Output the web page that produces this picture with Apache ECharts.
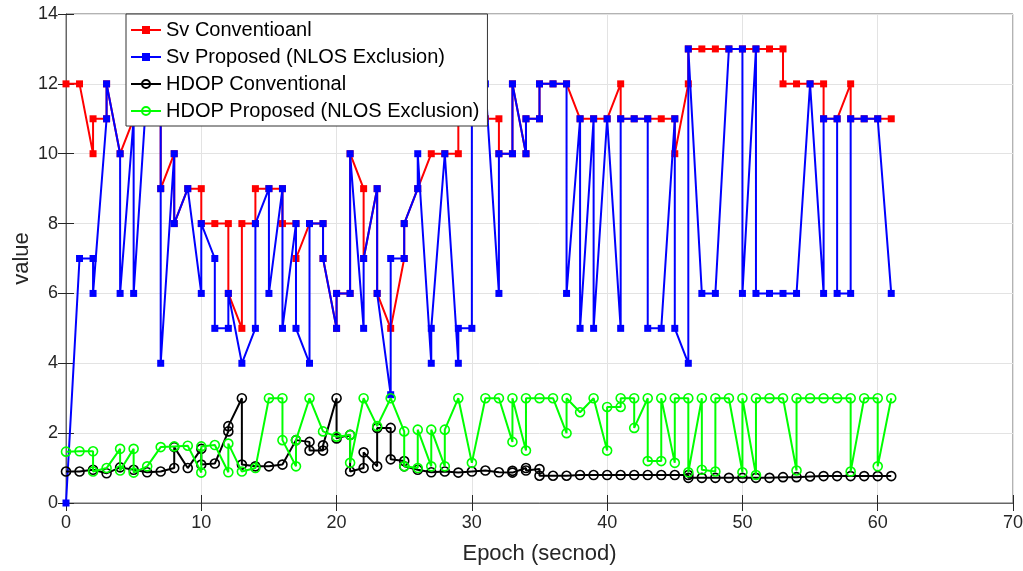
<!DOCTYPE html>
<html>
<head>
<meta charset="utf-8">
<script src="https://cdn.jsdelivr.net/npm/echarts@6/dist/echarts.min.js"></script>
<style>
html,body{margin:0;padding:0;background:#fff;}
#chart{width:1023px;height:571px;}
</style>
</head>
<body>
<div id="chart"></div>
<script>
// ---- data: [epoch, value] pairs, in drawing order ----
const seriesNames = ['Sv Conventioanl', 'Sv Proposed (NLOS Exclusion)', 'HDOP Conventional', 'HDOP Proposed (NLOS Exclusion)'];
const xTicks = [0, 10, 20, 30, 40, 50, 60, 70];
const yTicks = [0, 2, 4, 6, 8, 10, 12, 14];

const svConventional = [[0,12],[1,12],[2,10],[2,11],[3,11],[3,12],[4,10],[5,11],[6,12],[7,12],[7,9],[8,10],[8,8],[9,9],[10,9],[10,8],[11,8],[12,8],[12,6],[13,5],[13,8],[14,8],[14,9],[15,9],[16,9],[16,8],[17,8],[17,7],[18,8],[19,8],[19,7],[20,5],[20,6],[21,6],[21,10],[22,9],[22,7],[23,9],[23,6],[24,5],[25,7],[25,8],[26,9],[27,10],[28,10],[29,10],[29,11],[30,11],[31,11],[32,11],[32,10],[33,10],[33,12],[34,10],[34,11],[35,11],[35,12],[36,12],[37,12],[38,11],[39,11],[40,11],[41,12],[41,11],[42,11],[43,11],[44,11],[45,11],[45,10],[46,12],[46,13],[47,13],[48,13],[49,13],[50,13],[51,13],[52,13],[53,13],[53,12],[54,12],[55,12],[56,12],[56,11],[57,11],[58,12],[58,11],[59,11],[60,11],[61,11]];

const svProposed = [[0,0],[1,7],[2,7],[2,6],[3,11],[3,12],[4,10],[4,6],[5,11],[5,6],[6,12],[7,12],[7,9],[7,4],[8,10],[8,8],[9,9],[10,6],[10,8],[11,7],[11,5],[12,5],[12,6],[13,4],[14,5],[14,8],[15,9],[15,6],[16,9],[16,5],[17,8],[17,5],[18,4],[18,8],[19,8],[19,7],[20,5],[20,6],[21,6],[21,10],[22,5],[22,7],[23,9],[23,6],[24,3.1],[24,7],[25,7],[25,8],[26,9],[26,10],[27,4],[27,5],[28,10],[29,4],[29,5],[30,5],[30,12],[31,12],[32,6],[32,10],[33,10],[33,12],[34,10],[34,11],[35,11],[35,12],[36,12],[37,12],[37,6],[38,11],[38,5],[39,11],[39,5],[40,11],[41,5],[41,11],[42,11],[43,11],[43,5],[44,5],[45,11],[45,5],[46,4],[46,13],[47,6],[48,6],[49,13],[50,13],[50,6],[51,13],[51,6],[52,6],[53,6],[54,6],[55,12],[56,6],[56,11],[57,11],[57,6],[58,6],[58,11],[59,11],[60,11],[61,6]];

const hdopConventional = [[0,0.9],[1,0.9],[2,0.95],[3,0.85],[4,1.02],[5,0.95],[6,0.88],[7,0.9],[8,1.0],[8,1.6],[9,1.0],[10,1.55],[10,1.1],[11,1.13],[12,2.05],[12,2.2],[13,3.0],[13,1.1],[14,1.05],[15,1.05],[16,1.1],[17,1.8],[18,1.75],[18,1.5],[19,1.5],[19,1.65],[20,3.0],[20,1.85],[21,1.95],[21,0.9],[22,1.0],[22,1.45],[23,1.05],[23,2.15],[24,2.15],[24,1.25],[25,1.2],[25,1.05],[26,0.95],[27,0.88],[28,0.9],[29,0.87],[30,0.9],[31,0.93],[32,0.88],[33,0.87],[33,0.92],[34,1.0],[34,0.93],[35,0.97],[35,0.78],[36,0.78],[37,0.78],[38,0.8],[39,0.8],[40,0.8],[41,0.8],[42,0.8],[43,0.8],[44,0.8],[45,0.8],[46,0.8],[46,0.72],[47,0.72],[48,0.72],[49,0.72],[50,0.72],[51,0.72],[52,0.72],[53,0.74],[54,0.74],[55,0.76],[56,0.77],[57,0.77],[58,0.77],[59,0.77],[60,0.77],[61,0.77]];

const hdopProposed = [[0,1.47],[1,1.48],[2,1.48],[2,0.9],[3,1.0],[4,1.55],[4,0.93],[5,1.55],[5,0.87],[6,1.05],[7,1.6],[8,1.62],[9,1.64],[10,0.87],[10,1.62],[11,1.66],[12,0.88],[12,1.7],[13,0.9],[14,1.0],[15,3.0],[16,3.0],[16,1.8],[17,1.05],[17,1.8],[18,3.0],[19,2.05],[20,1.9],[21,1.95],[21,1.15],[22,3.0],[23,2.2],[24,3.0],[25,2.05],[25,1.05],[26,1.0],[26,2.1],[27,1.05],[27,2.1],[28,1.05],[28,2.1],[29,3.0],[30,1.15],[31,3.0],[32,3.0],[33,1.75],[33,3.0],[34,1.5],[34,3.0],[35,3.0],[36,3.0],[37,2.0],[37,3.0],[38,2.6],[39,3.0],[40,1.5],[40,2.75],[41,2.75],[41,3.0],[42,3.0],[42,2.15],[43,3.0],[43,1.2],[44,1.2],[44,3.0],[45,1.15],[45,3.0],[46,3.0],[46,0.88],[47,3.0],[47,0.95],[48,0.9],[48,3.0],[49,3.0],[50,0.88],[50,3.0],[51,0.8],[51,3.0],[52,3.0],[53,3.0],[54,0.93],[54,3.0],[55,3.0],[56,3.0],[57,3.0],[58,3.0],[58,0.9],[59,3.0],[60,3.0],[60,1.05],[61,3.0]];

const colors = ['#ff0000', '#0000ff', '#000000', '#00ff00'];

// ---- chart ----
const axisFont = "'Liberation Sans Narrow', 'Liberation Sans', Arial, sans-serif";
const legendFont = "'Liberation Sans', Arial, sans-serif";
const axisColor = '#666666';

const chart = echarts.init(document.getElementById('chart'), null, {renderer: 'canvas'});

function mkSeries(name, data, color, isSv, z) {
  return {
    name: name,
    type: 'line',
    data: data,
    xAxisIndex: 0,
    yAxisIndex: 0,
    z: z,
    symbol: isSv ? 'rect' : 'circle',
    symbolSize: isSv ? 7 : 9,
    showAllSymbol: true,
    animation: false,
    lineStyle: {color: color, width: 2},
    itemStyle: isSv ? {color: color} : {color: 'rgba(255,255,255,0)', borderColor: color, borderWidth: 1.6},
    emphasis: {disabled: true}
  };
}

const option = {
  backgroundColor: '#ffffff',
  animation: false,
  grid: {left: 66, top: 14, width: 947, height: 489, containLabel: false, outerBoundsMode: 'none',
         show: true, borderColor: axisColor, borderWidth: 1, backgroundColor: '#ffffff'},
  legend: {
    data: seriesNames,
    orient: 'vertical',
    left: 126,
    top: 14,
    padding: [6, 8, 5, 4],
    itemGap: 7,
    itemWidth: 30,
    itemHeight: 10,
    backgroundColor: '#ffffff',
    borderColor: '#333333',
    borderWidth: 1,
    borderRadius: 0,
    z: 10,
    selectedMode: false,
    textStyle: {fontFamily: legendFont, fontSize: 20, color: '#000', lineHeight: 20}
  },
  xAxis: [{
    type: 'value', min: xTicks[0], max: xTicks[xTicks.length - 1], interval: 10,
    position: 'bottom',
    name: 'Epoch (secnod)', nameLocation: 'middle', nameGap: 40, nameMoveOverlap: false,
    nameTextStyle: {fontFamily: axisFont, fontSize: 22, color: '#262626'},
    axisLine: {show: true, lineStyle: {color: axisColor, width: 1}},
    axisTick: {show: true, inside: true, length: 8, lineStyle: {color: '#262626'}},
    axisLabel: {fontFamily: axisFont, fontSize: 18, color: '#262626', margin: 11},
    splitLine: {show: true, lineStyle: {color: '#e3e3e3', width: 1}}
  }, {
    type: 'value', min: xTicks[0], max: xTicks[xTicks.length - 1], interval: 10,
    position: 'top',
    axisLine: {show: true, lineStyle: {color: axisColor, width: 1}},
    axisTick: {show: true, inside: true, length: 8, lineStyle: {color: '#262626'}},
    axisLabel: {show: false},
    splitLine: {show: false}
  }],
  yAxis: [{
    type: 'value', min: yTicks[0], max: yTicks[yTicks.length - 1], interval: 2,
    position: 'left',
    name: 'value', nameLocation: 'middle', nameGap: 33, nameRotate: 90, nameMoveOverlap: false,
    nameTextStyle: {fontFamily: axisFont, fontSize: 22, color: '#262626'},
    axisLine: {show: true, lineStyle: {color: axisColor, width: 1}},
    axisTick: {show: true, inside: true, length: 8, lineStyle: {color: '#262626'}},
    axisLabel: {fontFamily: axisFont, fontSize: 18, color: '#262626', margin: 8},
    splitLine: {show: true, lineStyle: {color: '#e3e3e3', width: 1}}
  }, {
    type: 'value', min: yTicks[0], max: yTicks[yTicks.length - 1], interval: 2,
    position: 'right',
    axisLine: {show: true, lineStyle: {color: axisColor, width: 1}},
    axisTick: {show: true, inside: true, length: 8, lineStyle: {color: '#262626'}},
    axisLabel: {show: false},
    splitLine: {show: false}
  }],
  series: [
    mkSeries(seriesNames[0], svConventional, colors[0], true, 2),
    mkSeries(seriesNames[1], svProposed, colors[1], true, 3),
    mkSeries(seriesNames[2], hdopConventional, colors[2], false, 4),
    mkSeries(seriesNames[3], hdopProposed, colors[3], false, 5)
  ]
};
chart.setOption(option);
</script>
</body>
</html>
